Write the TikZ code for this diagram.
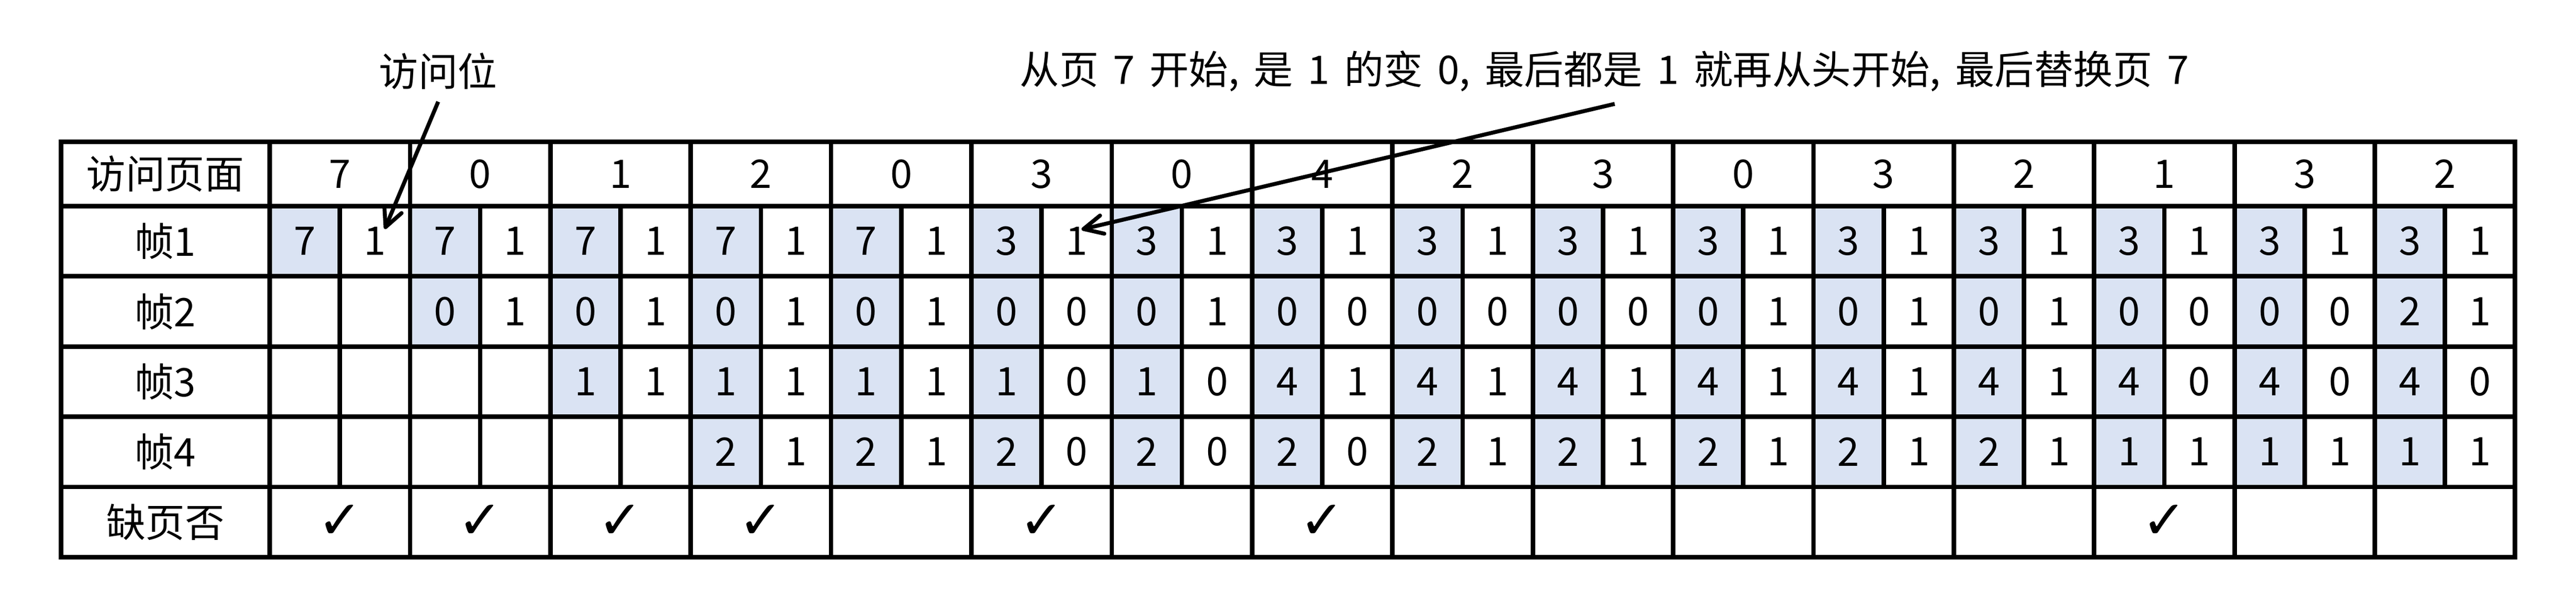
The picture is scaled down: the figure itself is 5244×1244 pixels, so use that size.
\documentclass[tikz,border=0pt]{standalone}
\usepackage{fontspec}
\setmainfont{Noto Sans CJK SC}
\newfontfamily\checkfont{DejaVu Sans}
\usepackage{xcolor}
\usetikzlibrary{arrows.meta,positioning}
\definecolor{pageblue}{RGB}{218,227,243}

\begin{document}
\begin{tikzpicture}[->,>={Straight Barb[length=3.9mm,width=3.8mm,round]},
			x=0.01cm,y=-0.01cm,line width=2.3pt,
			font=\fontsize{22.8pt}{27pt}\selectfont]
				\tikzstyle{every node}=[inner sep=0pt,outer sep=0pt]
				\tikzstyle{rowlab}=[minimum width=4.25cm,minimum height=1.43cm]
				\tikzstyle{pg}=[fill=pageblue,minimum width=1.4285cm,minimum height=1.43cm]
				\tikzstyle{tick}=[font=\fontsize{31pt}{36pt}\checkfont]
				\tikzstyle{note}=[inner sep=0.25cm]
				\tikzstyle{grid}=[-,line width=2.6pt]
				
				\useasboundingbox (0,0) rectangle (5244,1244);
				
				% row labels
				\node[rowlab,minimum height=1.31cm] (top) at (336.5,354.5) {访问页面};
				\node[rowlab] (f1) [below=0pt of top] {帧1};
				\node[rowlab] (f2) [below=0pt of f1] {帧2};
				\node[rowlab] (f3) [below=0pt of f2] {帧3};
				\node[rowlab] (f4) [below=0pt of f3] {帧4};
				\node[rowlab] (miss) [below=0pt of f4] {缺页否};
				
				% pages asked for
				\foreach \pg [count=\k] in {7,0,1,2,0,3,0,4,2,3,0,3,2,1,3,2}
					\node (h\k) at (549+\k*285.7-142.85,354.5) {\pg};
				
				% frames: page / access bit
				\foreach \p/\b [count=\k] in {7/1,7/1,7/1,7/1,7/1,3/1,3/1,3/1,3/1,3/1,3/1,3/1,3/1,3/1,3/1,3/1}{
					\node[pg] (p1-\k) at (549+\k*285.7-214.3,491.5) {\p};
					\node (b1-\k) at (549+\k*285.7-71.4,491.5) {\b};}
				\foreach \p/\b [count=\k from 2] in {0/1,0/1,0/1,0/1,0/0,0/1,0/0,0/0,0/0,0/1,0/1,0/1,0/0,0/0,2/1}{
					\node[pg] (p2-\k) at (549+\k*285.7-214.3,634.5) {\p};
					\node (b2-\k) at (549+\k*285.7-71.4,634.5) {\b};}
				\foreach \p/\b [count=\k from 3] in {1/1,1/1,1/1,1/0,1/0,4/1,4/1,4/1,4/1,4/1,4/1,4/0,4/0,4/0}{
					\node[pg] (p3-\k) at (549+\k*285.7-214.3,777.5) {\p};
					\node (b3-\k) at (549+\k*285.7-71.4,777.5) {\b};}
				\foreach \p/\b [count=\k from 4] in {2/1,2/1,2/0,2/0,2/0,2/1,2/1,2/1,2/1,2/1,1/1,1/1,1/1}{
					\node[pg] (p4-\k) at (549+\k*285.7-214.3,920.5) {\p};
					\node (b4-\k) at (549+\k*285.7-71.4,920.5) {\b};}
				
				% page faults
				\foreach \k in {1,2,3,4,6,8,14}
					\node[tick] (q\k) at (549+\k*285.7-142.85,1063.5) {✓};
				
				% table lines
				\draw[grid] (124,289) rectangle (5120,1135);
				\foreach \y in {420,563,706,849,992}
					\draw[grid] (124,\y) -- (5120,\y);
				\foreach \k in {0,...,15}
					\draw[grid] (549+\k*285.7,289) -- (549+\k*285.7,1135);
				\foreach \k in {1,...,16}
					\draw[grid] (549+\k*285.7-142.85,420) -- (549+\k*285.7-142.85,992);
				
				\node[note] (acc) at (892,145) {访问位};
				\node[note] (rule) at (3266,145)
					{\spaceskip=0.37em\relax 从页 7 开始, 是 1 的变 0, 最后都是 1 就再从头开始, 最后替换页 7};
				
				\draw (acc.south) -- ([shift={(20,-25)}]b1-1.center);
				\draw ([xshift=0.21cm]rule.south) -- ([shift={(10,-24)}]b1-6.center);
\end{tikzpicture}
\end{document}
